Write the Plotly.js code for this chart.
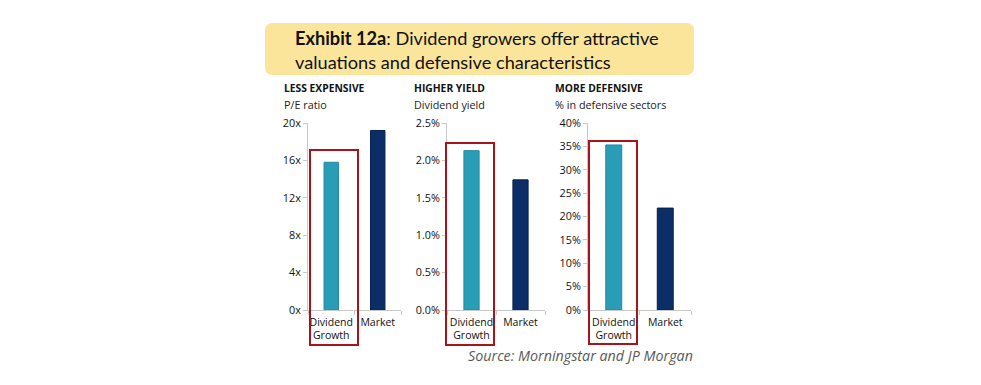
<!DOCTYPE html>
<html>
<head>
<meta charset="utf-8">
<script src="https://cdn.plot.ly/plotly-3.0.1.min.js"></script>
<style>
html,body{margin:0;padding:0;background:#fff;}
#chart{width:981px;height:385px;}
</style>
</head>
<body>
<div id="chart"></div>
<script>
// ---- data ----
const categories = ["Dividend<br>Growth", "Market"];
const peRatio = [15.8, 19.2];          // P/E ratio (x)
const dividendYield = [2.13, 1.74];    // dividend yield (%)
const defensiveShare = [35.3, 21.8];   // % in defensive sectors
const panelHeads = ["LESS EXPENSIVE", "HIGHER YIELD", "MORE DEFENSIVE"];
const panelSubs = ["P/E ratio", "Dividend yield", "% in defensive sectors"];
const titleBold = "Exhibit 12a";
const titleRest = ": Dividend growers offer attractive<br>valuations and defensive characteristics";
const sourceText = "Source: Morningstar and JP Morgan";

// ---- layout helpers ----
const W = 981, H = 385;
const px = v => v / W;
const py = v => 1 - v / H;
const barColors = ["#2a9db6", "#0b2e66"];
const lineColors = ["#1f8aa2", "#06214f"];
const chartFont = "Open Sans, Noto Sans, sans-serif";

const yDomain = [py(310), py(123)];
const xDomains = [[px(308), px(401)], [px(447), px(545)], [px(588), px(691)]];
const series = [peRatio, dividendYield, defensiveShare];

const traces = series.map((vals, i) => ({
  type: "bar",
  x: categories,
  y: vals,
  xaxis: i === 0 ? "x" : "x" + (i + 1),
  yaxis: i === 0 ? "y" : "y" + (i + 1),
  marker: { color: barColors, line: { color: lineColors, width: 1 } },
  width: 0.31,
  hoverinfo: "skip",
  showlegend: false
}));

const axisBase = {
  showline: true, linecolor: "#c8c8c8", linewidth: 1,
  ticks: "outside", ticklen: 4, tickcolor: "#c8c8c8",
  showgrid: false, zeroline: false, fixedrange: true,
  tickfont: { family: chartFont, size: 10.8, color: "#111" }
};

const layout = {
  width: W, height: H,
  margin: { l: 0, r: 0, t: 0, b: 0 },
  paper_bgcolor: "#fff", plot_bgcolor: "rgba(0,0,0,0)",
  font: { family: chartFont, color: "#222" },
  bargap: 0.68,
  shapes: [],
  annotations: []
};

const yCfg = [
  { range: [0, 20], dtick: 4, ticksuffix: "x", tickformat: "d" },
  { range: [0, 2.5], dtick: 0.5, ticksuffix: "%", tickformat: ".1f" },
  { range: [0, 40], dtick: 5, ticksuffix: "%", tickformat: "d" }
];

for (let i = 0; i < 3; i++) {
  const sfx = i === 0 ? "" : String(i + 1);
  layout["xaxis" + sfx] = Object.assign({}, axisBase, {
    domain: xDomains[i], anchor: "y" + sfx, tickson: "boundaries",
    range: [-0.5, 1.5], type: "category", tickangle: 0,
    ticklabelstandoff: 2,
    tickfont: { family: chartFont, size: 10.5, color: "#111" }
  });
  layout["yaxis" + sfx] = Object.assign({}, axisBase, {
    domain: yDomain, anchor: "x" + sfx, tick0: 0
  }, yCfg[i]);
}

// panel headers
const headX = [282, 412, 553];
for (let i = 0; i < 3; i++) {
  layout.annotations.push({
    xref: "paper", yref: "paper", x: px(headX[i]), y: py(88),
    xanchor: "left", yanchor: "middle", showarrow: false,
    text: "<b>" + panelHeads[i] + "</b>",
    font: { family: chartFont, size: 10.3, color: "#111" }
  });
  layout.annotations.push({
    xref: "paper", yref: "paper", x: px(headX[i]), y: py(105),
    xanchor: "left", yanchor: "middle", showarrow: false,
    text: panelSubs[i],
    font: { family: chartFont, size: 10.8, color: "#222" }
  });
}

// title box (rounded)
const bx0 = px(265), bx1 = px(694), by0 = py(75), by1 = py(23);
const rx = px(8), ry = 8 / H;
layout.shapes.push({
  type: "path", xref: "paper", yref: "paper",
  path: `M ${bx0 + rx} ${by1} L ${bx1 - rx} ${by1} Q ${bx1} ${by1} ${bx1} ${by1 - ry} ` +
        `L ${bx1} ${by0 + ry} Q ${bx1} ${by0} ${bx1 - rx} ${by0} L ${bx0 + rx} ${by0} ` +
        `Q ${bx0} ${by0} ${bx0} ${by0 + ry} L ${bx0} ${by1 - ry} Q ${bx0} ${by1} ${bx0 + rx} ${by1} Z`,
  fillcolor: "#fae59b", line: { width: 0 }, layer: "below"
});
layout.annotations.push({
  xref: "paper", yref: "paper", x: px(293), y: py(50),
  xanchor: "left", yanchor: "middle", align: "left", showarrow: false,
  text: "<b>" + titleBold + "</b>" + titleRest,
  font: { family: "Lato, Open Sans, sans-serif", size: 18.2, color: "#111" }
});

// red highlight boxes
const boxes = [[310, 358, 150, 345], [446, 494, 143, 345], [589, 637, 141, 344]];
boxes.forEach(b => layout.shapes.push({
  type: "rect", xref: "paper", yref: "paper",
  x0: px(b[0]), x1: px(b[1]), y0: py(b[3]), y1: py(b[2]),
  line: { color: "#a8141c", width: 2 }, fillcolor: "rgba(0,0,0,0)"
}));

// source
layout.annotations.push({
  xref: "paper", yref: "paper", x: px(695), y: py(355),
  xanchor: "right", yanchor: "middle", showarrow: false,
  text: "<i>" + sourceText + "</i>",
  font: { family: "Open Sans, sans-serif", size: 14.3, color: "#5a5a5a" }
});

Plotly.newPlot("chart", traces, layout, { displayModeBar: false, staticPlot: true });
</script>
</body>
</html>
